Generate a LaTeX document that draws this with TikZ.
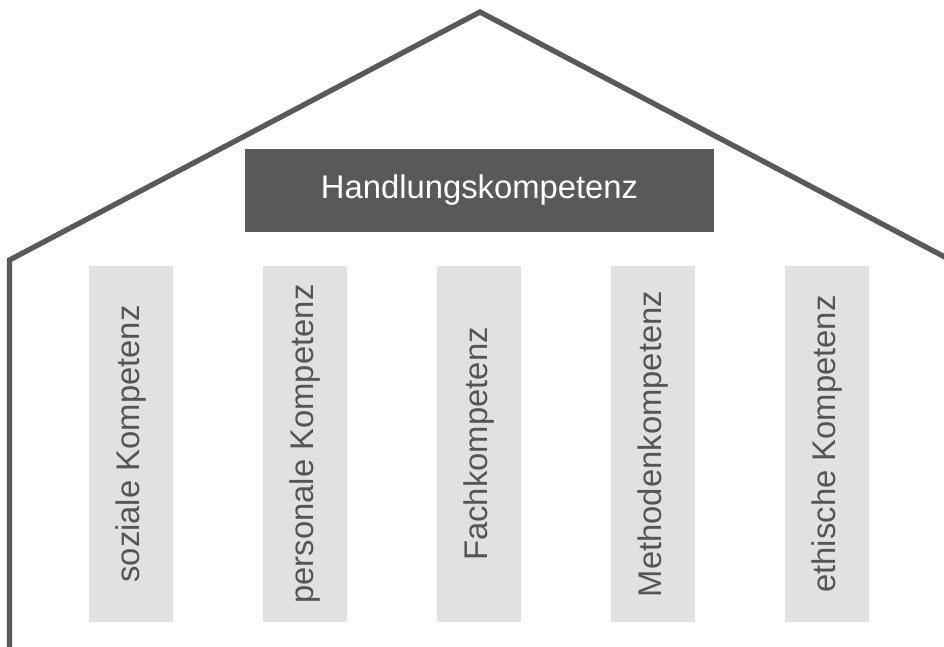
\documentclass[tikz,border=0pt]{standalone}
\usepackage{fontspec}
\setmainfont{Liberation Sans}
\definecolor{darkg}{HTML}{595959}
\definecolor{lightg}{HTML}{E1E1E1}
\definecolor{textg}{HTML}{555555}
\begin{document}
\begin{tikzpicture}[x=1pt,y=-1pt,
  pillar/.style={rotate=90, fill=lightg, minimum width=356pt, minimum height=84pt, inner sep=0pt, text=textg, font=\fontsize{32.8}{38}\selectfont},
  headbox/.style={fill=darkg, minimum width=469pt, minimum height=83pt, inner sep=0pt, text=white, font=\fontsize{32.8}{38}\selectfont},
  roof/.style={draw=darkg, line width=5.3pt, line join=miter}]
\useasboundingbox (0,0) rectangle (944,646);
\clip (0,0) rectangle (944,646);
\coordinate (wallbottom) at (9.5,650);
\coordinate (eaveL) at (9.5,260);
\coordinate (apex) at (480,12);
\coordinate (eaveR) at (950.5,260);
\draw[roof] (wallbottom) -- (eaveL) -- (apex) -- (eaveR);
\node[headbox] (hk) at (479.5,190.5) {Handlungskompetenz};
\node[pillar] (p1) at (131,444) {soziale Kompetenz};
\node[pillar] (p2) at (305,444) {personale Kompetenz};
\node[pillar] (p3) at (479,444) {Fachkompetenz};
\node[pillar] (p4) at (653,444) {Methodenkompetenz};
\node[pillar] (p5) at (827,444) {ethische Kompetenz};
\end{tikzpicture}
\end{document}
